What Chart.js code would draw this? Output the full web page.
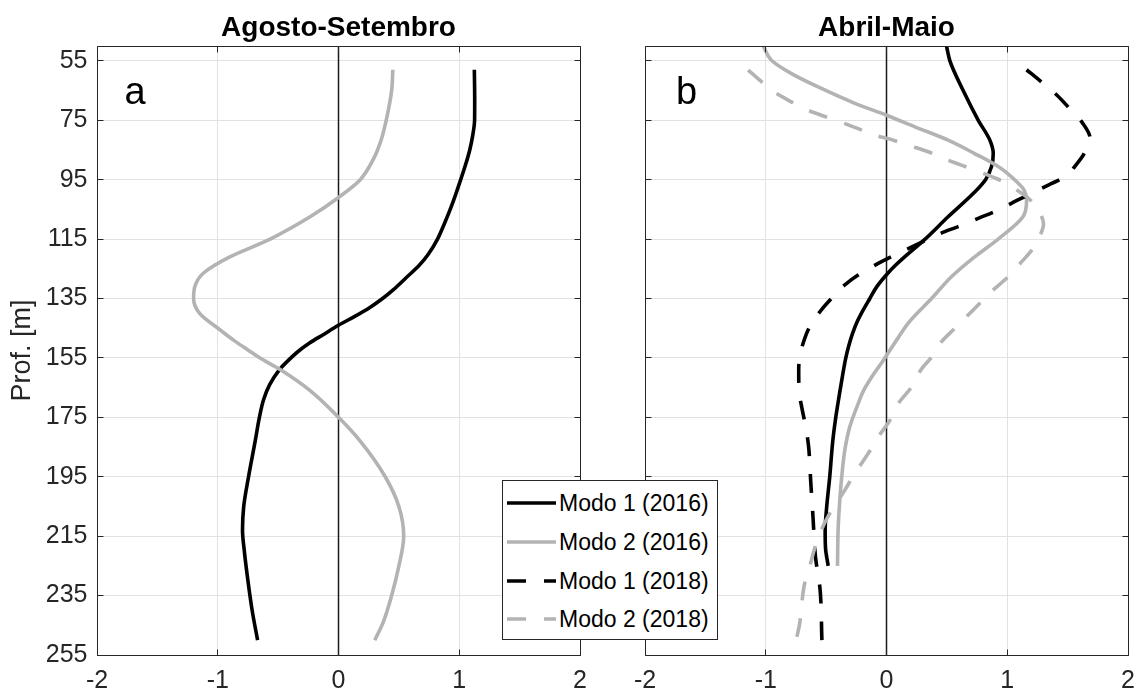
<!DOCTYPE html>
<html>
<head>
<meta charset="utf-8">
<script src="https://cdn.jsdelivr.net/npm/chart.js@4.4.1/dist/chart.umd.min.js"></script>
<style>
  html, body { margin: 0; padding: 0; background: #fff; width: 1137px; height: 691px; overflow: hidden; }
  #wrap { position: relative; width: 1137px; height: 691px; }
  canvas { position: absolute; top: 0; }
  #cA { left: 0; }
  #cB { left: 625px; }
  #legend { position: absolute; left: 502px; top: 480px; width: 216px; height: 160px; box-sizing: border-box;
            border: 1px solid #262626; background: #fff; font-family: "Liberation Sans", Arial, sans-serif; font-size: 23px; color: #000; }
  .row { position: absolute; left: 0; height: 30px; width: 214px; }
  .row svg { position: absolute; left: 4px; top: 0; }
  .row span { position: absolute; left: 56px; top: 0; line-height: 30px; white-space: nowrap; }
</style>
</head>
<body>
<div id="wrap">
  <canvas id="cA" width="600" height="691"></canvas>
  <canvas id="cB" width="512" height="691"></canvas>
  <div id="legend"></div>
</div>
<script>
// ---------------- data ----------------
const depthTicks = [55, 75, 95, 115, 135, 155, 175, 195, 215, 235, 255];
const xTicks = [-2, -1, 0, 1, 2];
const panelTitles = ['Agosto-Setembro', 'Abril-Maio'];
const panelLetters = ['a', 'b'];
const seriesNames = ['Modo 1 (2016)', 'Modo 2 (2016)', 'Modo 1 (2018)', 'Modo 2 (2018)'];
const yLabel = 'Prof. [m]';

// Panel a (Agosto-Setembro)
const aMode1_2016_depth = [58, 68, 75, 80, 85, 90, 95, 100, 105, 110, 115, 120, 124, 128, 132, 135, 138, 141, 144, 147, 150, 153, 156, 159, 164, 169, 175, 183, 195, 205, 213, 220, 230, 240, 250];
const aMode1_2016_value = [1.125, 1.128, 1.127, 1.112, 1.087, 1.052, 1.012, 0.97, 0.925, 0.875, 0.82, 0.745, 0.665, 0.56, 0.455, 0.365, 0.26, 0.135, 0.0, -0.12, -0.24, -0.34, -0.42, -0.49, -0.57, -0.62, -0.655, -0.69, -0.745, -0.785, -0.795, -0.78, -0.75, -0.715, -0.67];
const aMode2_2016_depth = [58, 65, 75, 82, 88, 95, 101, 107.5, 115, 121, 126.5, 131, 135, 140, 145.6, 149, 152.3, 155, 159, 166, 175, 183, 195, 205, 215, 225, 235, 244, 250];
const aMode2_2016_value = [0.45, 0.44, 0.395, 0.35, 0.29, 0.18, 0.0, -0.235, -0.566, -0.90, -1.12, -1.19, -1.20, -1.15, -0.98, -0.87, -0.75, -0.65, -0.48, -0.235, 0.0, 0.18, 0.387, 0.50, 0.54, 0.50, 0.44, 0.37, 0.30];

// Panel b (Abril-Maio)
const bMode1_2016_depth = [50, 55, 65, 75, 81.7, 86.2, 90.6, 95, 99.6, 107.5, 115, 121, 124, 127, 131, 135, 139, 143, 147, 151, 155, 160, 166, 175, 183, 195, 205, 213, 219, 225];
const bMode1_2016_value = [0.497, 0.525, 0.635, 0.76, 0.856, 0.884, 0.87, 0.82, 0.72, 0.51, 0.32, 0.15, 0.07, 0.0, -0.08, -0.138, -0.195, -0.245, -0.283, -0.313, -0.337, -0.36, -0.385, -0.42, -0.445, -0.47, -0.495, -0.508, -0.505, -0.483];
const bMode2_2016_depth = [50, 54.8, 59.3, 64.3, 69.3, 73.3, 77.2, 81.7, 86.2, 90.6, 95, 98.5, 102, 107.5, 115, 121, 127.6, 135, 143, 148, 152, 156, 161.5, 166, 170.4, 178.2, 186, 196, 203, 212, 225];
const bMode2_2016_value = [-1.02, -0.953, -0.787, -0.539, -0.262, 0.0, 0.235, 0.51, 0.73, 0.925, 1.06, 1.14, 1.16, 1.13, 0.925, 0.73, 0.54, 0.373, 0.185, 0.10, 0.035, -0.03, -0.124, -0.19, -0.235, -0.304, -0.345, -0.373, -0.387, -0.40, -0.406];
const bMode1_2018_depth = [58, 62, 66.5, 71, 75.7, 81, 86, 90, 94, 96.8, 99.6, 102, 105.2, 108, 110.8, 112.5, 115.3, 119.8, 123.2, 127.1, 130.4, 134.4, 138.8, 144.4, 150, 155, 159, 166, 172, 178, 184.5, 197, 209, 222, 233, 250];
const bMode1_2018_value = [1.16, 1.28, 1.41, 1.515, 1.62, 1.685, 1.64, 1.57, 1.48, 1.34, 1.20, 1.08, 0.925, 0.76, 0.594, 0.483, 0.33, 0.097, -0.069, -0.235, -0.345, -0.442, -0.539, -0.635, -0.69, -0.72, -0.727, -0.724, -0.70, -0.67, -0.646, -0.627, -0.608, -0.588, -0.55, -0.535];
const bMode2_2018_depth = [58.1, 61.5, 64.9, 68.2, 71, 73.3, 75.5, 77.8, 80, 81.7, 83.4, 85.6, 87.8, 90.1, 91.8, 94.6, 99.6, 103, 106.9, 110, 113, 118.1, 122.6, 128.2, 132.1, 136.6, 141.1, 145.6, 149.5, 154.8, 158.7, 164.8, 170.4, 176, 181.6, 187.2, 192.2, 196.7, 199.5, 207.3, 212.9, 219, 225.1, 230.7, 238.5, 244.1, 249.7];
const bMode2_2018_value = [-1.146, -1.05, -0.953, -0.815, -0.69, -0.54, -0.387, -0.235, -0.097, 0.055, 0.18, 0.345, 0.47, 0.62, 0.73, 0.91, 1.12, 1.22, 1.28, 1.30, 1.28, 1.215, 1.12, 0.994, 0.884, 0.773, 0.663, 0.552, 0.456, 0.373, 0.29, 0.207, 0.097, 0.028, -0.069, -0.152, -0.235, -0.304, -0.345, -0.47, -0.54, -0.594, -0.635, -0.677, -0.704, -0.718, -0.746];

// zero reference line
const zeroLineX = [0, 0];
const zeroLineDepth = [50, 255];

// ---------------- styles ----------------
const BLACK = '#000000';
const GRAY = '#b3b3b3';
const AXIS = '#262626';
const GRID = '#e2e2e2';
const FONT = '"Liberation Sans", Arial, sans-serif';
const DASH = [19, 18];
const LW = 3.6;

function pts(depths, values) { return depths.map((d, i) => ({ x: values[i], y: d })); }

function curve(label, depths, values, color, dashed, order) {
  return { label, data: pts(depths, values), showLine: true, borderColor: color, backgroundColor: color,
           borderWidth: LW, borderDash: dashed ? DASH : [], pointRadius: 0, pointHoverRadius: 0,
           indexAxis: 'y', cubicInterpolationMode: 'monotone',
           fill: false, order: order, borderCapStyle: 'butt', borderJoinStyle: 'round' };
}
function zeroLine() {
  return { label: 'zero', data: pts(zeroLineDepth, zeroLineX), showLine: true, borderColor: '#1a1a1a',
           borderWidth: 1.5, pointRadius: 0, order: 20, tension: 0 };
}

function alignPx(v) { return Math.round(v - 0.5) + 0.5; }

const framePlugin = {
  id: 'frame',
  afterDatasetsDraw(chart) {
    const o = chart.options.plugins.frame;
    const { ctx, chartArea: ca } = chart;
    const xs = chart.scales.x, ys = chart.scales.y;
    ctx.save();
    ctx.strokeStyle = AXIS; ctx.lineWidth = 1;
    const L = alignPx(ca.left), R = alignPx(ca.right), T = alignPx(ca.top), B = alignPx(ca.bottom);
    ctx.beginPath();
    ctx.rect(L, T, R - L, B - T);
    ctx.stroke();
    ctx.beginPath();
    const tl = 6;
    xTicks.forEach(v => {
      const p = alignPx(xs.getPixelForValue(v));
      ctx.moveTo(p, T); ctx.lineTo(p, T + tl);
      ctx.moveTo(p, B); ctx.lineTo(p, B - tl);
    });
    depthTicks.forEach(v => {
      const p = alignPx(ys.getPixelForValue(v));
      ctx.moveTo(L, p); ctx.lineTo(L + tl, p);
      ctx.moveTo(R, p); ctx.lineTo(R - tl, p);
    });
    ctx.stroke();
    // panel letter
    ctx.fillStyle = '#000';
    ctx.font = '38px ' + FONT;
    ctx.textAlign = 'left'; ctx.textBaseline = 'alphabetic';
    ctx.fillText(o.letter, ca.left + o.letterDx, 104);
    // title
    ctx.font = 'bold 28px ' + FONT;
    ctx.textAlign = 'center';
    ctx.fillText(o.title, (ca.left + ca.right) / 2, 36);
    ctx.restore();
  }
};

function makeChart(id, datasets, panel) {
  const isA = panel === 0;
  return new Chart(document.getElementById(id), {
    type: 'scatter',
    data: { datasets },
    plugins: [framePlugin],
    options: {
      responsive: false, animation: false, devicePixelRatio: 1, events: [],
      layout: { padding: { left: 0, right: isA ? 20 : 9, top: 46, bottom: 0 } },
      plugins: {
        legend: { display: false }, tooltip: { enabled: false }, title: { display: false },
        frame: { title: panelTitles[panel], letter: panelLetters[panel], letterDx: isA ? 27.5 : 31 }
      },
      scales: {
        x: {
          type: 'linear', position: 'bottom', min: -2, max: 2,
          afterBuildTicks: s => { s.ticks = xTicks.map(v => ({ value: v })); },
          afterFit: s => { s.height = 36; s.paddingLeft = 0; s.paddingRight = 0; },
          grid: { color: GRID, lineWidth: 1, drawTicks: true, tickLength: 11, tickColor: 'rgba(0,0,0,0)' },
          border: { display: false },
          ticks: { color: AXIS, font: { family: FONT, size: 25 }, padding: 0, maxRotation: 0, autoSkip: false,
                   callback: v => String(v) }
        },
        y: {
          type: 'linear', position: 'left', reverse: true, min: 50, max: 255,
          afterBuildTicks: s => { s.ticks = depthTicks.map(v => ({ value: v })); },
          afterFit: s => { s.width = isA ? 97 : 20; s.paddingTop = 0; s.paddingBottom = 0; },
          grid: { color: GRID, lineWidth: 1, drawTicks: false },
          border: { display: false },
          ticks: { display: isA, color: AXIS, font: { family: FONT, size: 25 }, padding: 9.5, autoSkip: false,
                   callback: v => String(v) },
          title: { display: isA, text: yLabel, color: AXIS, font: { family: FONT, size: 27 }, padding: { top: 6, bottom: 0 } }
        }
      }
    }
  });
}

makeChart('cA', [
  curve(seriesNames[0], aMode1_2016_depth, aMode1_2016_value, BLACK, false, 4),
  curve(seriesNames[1], aMode2_2016_depth, aMode2_2016_value, GRAY, false, 3),
  zeroLine()
], 0);

makeChart('cB', [
  curve(seriesNames[0], bMode1_2016_depth, bMode1_2016_value, BLACK, false, 4),
  curve(seriesNames[1], bMode2_2016_depth, bMode2_2016_value, GRAY, false, 3),
  curve(seriesNames[2], bMode1_2018_depth, bMode1_2018_value, BLACK, true, 2),
  curve(seriesNames[3], bMode2_2018_depth, bMode2_2018_value, GRAY, true, 1),
  zeroLine()
], 1);

// legend (HTML)
const legendStyles = [[BLACK, false], [GRAY, false], [BLACK, true], [GRAY, true]];
const rowCenters = [23, 61.7, 100.7, 139.3];
const legend = document.getElementById('legend');
seriesNames.forEach((name, i) => {
  const row = document.createElement('div');
  row.className = 'row';
  row.style.top = (rowCenters[i] - 15 - 1) + 'px';
  const [c, d] = legendStyles[i];
  row.innerHTML = '<svg width="50" height="30"><line x1="0" y1="15" x2="49" y2="15" stroke="' + c +
    '" stroke-width="' + LW + '"' + (d ? ' stroke-dasharray="' + DASH.join(' ') + '"' : '') + '/></svg>' +
    '<span>' + name + '</span>';
  legend.appendChild(row);
});
</script>
</body>
</html>
